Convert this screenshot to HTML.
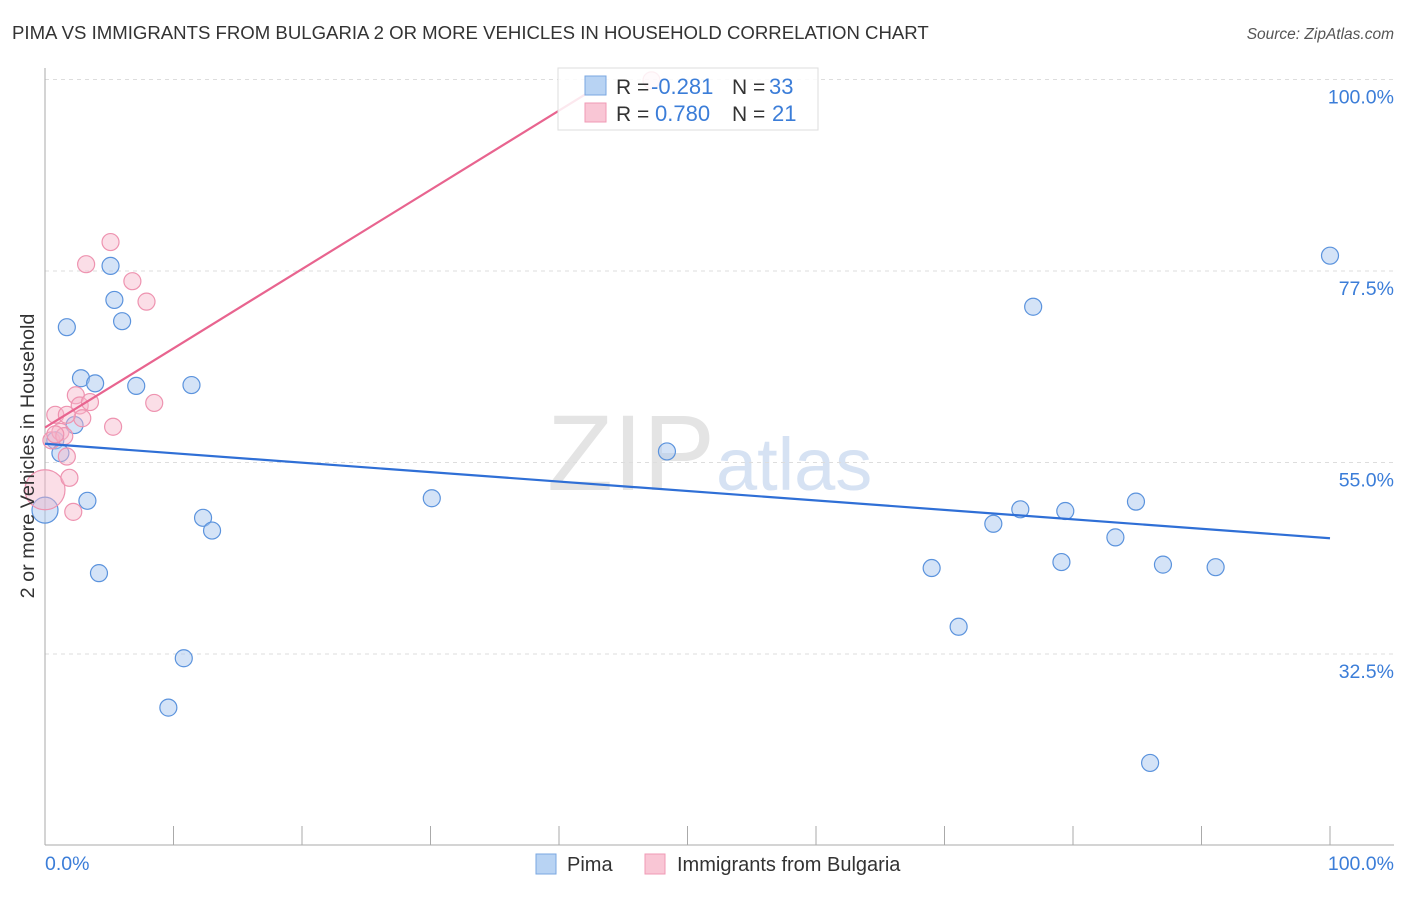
<!DOCTYPE html>
<html><head><meta charset="utf-8"><style>
body{margin:0;background:#fff;font-family:"Liberation Sans",sans-serif}
svg text{font-family:"Liberation Sans",sans-serif}
</style></head><body>
<svg id="c" width="1406" height="892" xmlns="http://www.w3.org/2000/svg">
<text x="12" y="39" font-size="18.6" fill="#333">PIMA VS IMMIGRANTS FROM BULGARIA 2 OR MORE VEHICLES IN HOUSEHOLD CORRELATION CHART</text>
<text x="1394" y="39" font-size="15.5" fill="#555" text-anchor="end" font-style="italic">Source: ZipAtlas.com</text>
<text x="715" y="490" font-size="108" fill="#e4e4e4" text-anchor="end" font-family="Liberation Serif">ZIP</text>
<text x="716" y="490" font-size="74" fill="#d6e2f3">atlas</text>
<g id="grid"></g><g id="axes"></g><g id="pts"></g><g id="trend"></g>
<text transform="translate(34,456) rotate(-90)" font-size="19.8" fill="#333" text-anchor="middle">2 or more Vehicles in Household</text>
<text x="45" y="870" font-size="19.5" fill="#3b7dd8">0.0%</text>
<text x="1394" y="870" font-size="19.5" fill="#3b7dd8" text-anchor="end">100.0%</text>
<g>
<rect x="558" y="68" width="260" height="62" fill="#fff" fill-opacity="0.85" stroke="#ddd"/>
<rect x="585" y="76" width="21" height="19" fill="#b8d3f3" stroke="#7aa7e0"/>
<rect x="585" y="103" width="21" height="19" fill="#f9c6d5" stroke="#f09ab5"/>
<text x="616" y="94" font-size="21" fill="#333">R = </text><text x="651" y="94" font-size="22" fill="#3b7dd8">-0.281</text>
<text x="732" y="94" font-size="21" fill="#333">N = </text><text x="769" y="94" font-size="22" fill="#3b7dd8">33</text>
<text x="616" y="121" font-size="21" fill="#333">R = </text><text x="655" y="121" font-size="22" fill="#3b7dd8">0.780</text>
<text x="732" y="121" font-size="21" fill="#333">N = </text><text x="772" y="121" font-size="22" fill="#3b7dd8">21</text>
</g>
<g>
<rect x="536" y="854" width="20" height="20" fill="#b8d3f3" stroke="#7aa7e0"/>
<text x="567" y="871" font-size="20" fill="#333">Pima</text>
<rect x="645" y="854" width="20" height="20" fill="#f9c6d5" stroke="#f09ab5"/>
<text x="677" y="871" font-size="20" fill="#333">Immigrants from Bulgaria</text>
</g>
</svg>
<script>
const yTicks=[100,77.5,55,32.5];
const yTickLabels=["100.0%","77.5%","55.0%","32.5%"];
const xTicks=[0,10,20,30,40,50,60,70,80,90,100];
const pimaX=[0,0.8,1.2,1.7,2.3,2.8,3.3,3.9,4.2,5.1,5.4,6.0,7.1,9.6,10.8,11.4,12.3,13.0,30.1,48.4,69.0,71.1,73.8,75.9,76.9,79.1,79.4,83.3,84.9,86.0,87.0,91.1,100];
const pimaY=[49.4,57.6,56.1,70.9,59.4,64.9,50.5,64.3,42.0,78.1,74.1,71.6,64.0,26.2,32.0,64.1,48.5,47.0,50.8,56.3,42.6,35.7,47.8,49.5,73.3,43.3,49.3,46.2,50.4,19.7,43.0,42.7,79.3];
const bulX=[0,0.5,0.8,1.2,1.5,1.7,1.9,2.2,2.4,2.7,2.9,3.2,3.5,5.1,5.3,6.8,7.9,8.5,47.2,1.7,0.8];
const bulY=[51.8,57.6,60.6,58.6,58.1,55.7,53.2,49.2,62.9,61.7,60.2,78.3,62.1,80.9,59.2,76.3,73.9,62.0,99.9,60.6,58.3];
const pimaTrendX=[0,100], pimaTrendY=[57.2,46.1];
const bulTrendX=[0,43.6], bulTrendY=[59.1,99.7];
const NS="http://www.w3.org/2000/svg";
const X=v=>45+v*12.85, Y=v=>79.5+(100-v)*8.511;
function mk(t,p,a){const e=document.createElementNS(NS,t);for(const k in a)e.setAttribute(k,a[k]);p.appendChild(e);return e;}
const grid=document.getElementById('grid'),axes=document.getElementById('axes'),pts=document.getElementById('pts'),tr=document.getElementById('trend');
yTicks.forEach((t,i)=>{
 const l=mk('line',grid,{x1:45,x2:1394,y1:Y(t),y2:Y(t),stroke:'#ddd','stroke-dasharray':'4,4'});
 
 
 const tx=mk('text',grid,{x:1394,y:Y(t)+24,'font-size':19.5,fill:'#3b7dd8','text-anchor':'end'});
 tx.textContent=yTickLabels[i];
 
 
});
const ya=mk('line',axes,{x1:45,x2:45,y1:68,y2:845,stroke:'#aaa'});


const xa=mk('line',axes,{x1:45,x2:1394,y1:845,y2:845,stroke:'#aaa'});


xTicks.forEach(t=>{
 const l=mk('line',axes,{x1:X(t),x2:X(t),y1:826,y2:845,stroke:'#aaa'});
 
 
});
pimaX.forEach((v,i)=>{
 const c=mk('circle',pts,{cx:X(v),cy:Y(pimaY[i]),r:i==0?13:8.5,fill:'#a9c8f0','fill-opacity':0.5,stroke:'#5b93dd','stroke-width':1.2});
 
 
});
bulX.forEach((v,i)=>{
 const c=mk('circle',pts,{cx:X(v),cy:Y(bulY[i]),r:i==0?20:8.5,fill:'#f6b6ca','fill-opacity':0.45,stroke:'#ee93b0','stroke-width':1.2});
 
 
});
const t1=mk('line',tr,{x1:X(pimaTrendX[0]),y1:Y(pimaTrendY[0]),x2:X(pimaTrendX[1]),y2:Y(pimaTrendY[1]),stroke:'#2f6fd6','stroke-width':2.2});


const t2=mk('line',tr,{x1:X(bulTrendX[0]),y1:Y(bulTrendY[0]),x2:X(bulTrendX[1]),y2:Y(bulTrendY[1]),stroke:'#e8648f','stroke-width':2.2});


</script>
</body></html>
